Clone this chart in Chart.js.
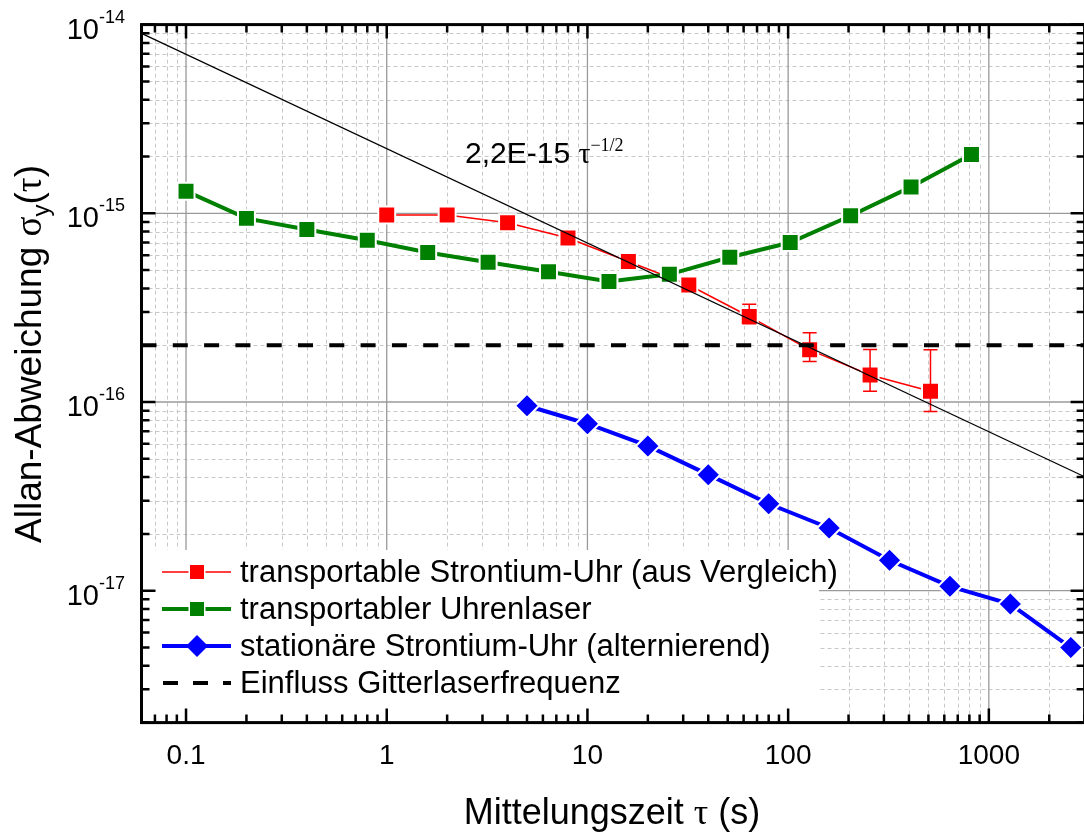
<!DOCTYPE html>
<html>
<head>
<meta charset="utf-8">
<script src="https://cdn.jsdelivr.net/npm/chart.js@4.4.0/dist/chart.umd.min.js"></script>
<style>
html, body { margin: 0; padding: 0; background: #fff; overflow: hidden; }
#wrap { width: 1084px; height: 833px; overflow: hidden; }
canvas { display: block; }
</style>
</head>
<body>
<div id="wrap"><canvas id="allan" width="1086" height="833"></canvas></div>
<script>
const tauRed = [1, 2, 4, 8, 16, 32, 64, 128, 256, 512];
const sigmaRed = [9.8e-16, 9.8e-16, 8.9e-16, 7.4e-16, 5.55e-16, 4.17e-16, 2.84e-16, 1.89e-16, 1.39e-16, 1.14e-16];
const errRedHigh = [null, null, null, null, null, null, 3.3e-16, 2.33e-16, 1.9e-16, 1.89e-16];
const errRedLow = [null, null, null, null, null, null, 2.6e-16, 1.64e-16, 1.14e-16, 8.9e-17];

const tauGreen = [0.1, 0.2, 0.4, 0.8, 1.6, 3.2, 6.4, 12.8, 25.6, 51.2, 102.4, 204.8, 409.6, 819.2];
const sigmaGreen = [1.31e-15, 9.4e-16, 8.2e-16, 7.2e-16, 6.2e-16, 5.5e-16, 4.9e-16, 4.35e-16, 4.75e-16, 5.85e-16, 7.0e-16, 9.7e-16, 1.38e-15, 2.05e-15];

const tauBlue = [5, 10, 20, 40, 80, 160, 320, 640, 1280, 2560];
const sigmaBlue = [9.55e-17, 7.67e-17, 5.85e-17, 4.12e-17, 2.89e-17, 2.15e-17, 1.45e-17, 1.055e-17, 8.5e-18, 5.0e-18];

// 2,2E-15 tau^-1/2 (Endpunkte) und Gitterlaser-Grenze
const fitTau = [0.06, 3000];
const fitSigma = [8.98e-15, 4.02e-17];
const latticeTau = [0.06, 3000];
const latticeSigma = [2e-16, 2e-16];

const xTicks = [0.1, 1, 10, 100, 1000];
const xTickLabels = ['0.1', '1', '10', '100', '1000'];
const yTickExps = [-14, -15, -16, -17];

const legendLabels = [
    'transportable Strontium-Uhr (aus Vergleich)',
    'transportabler Uhrenlaser',
    'stationäre Strontium-Uhr (alternierend)',
    'Einfluss Gitterlaserfrequenz'
];

const RED = '#ff0000', GREEN = '#008000', BLUE = '#0000ff';
const SANS = '"Liberation Sans", Arial, sans-serif';
const SERIF = '"Liberation Serif", "Times New Roman", serif';

const toXY = (xs, ys) => xs.map((x, i) => ({ x: x, y: ys[i] }));

// alle Werte m*10^e im Bereich (fuer Gitter und Striche)
function logValues(min, max) {
    const out = [];
    for (let e = Math.floor(Math.log10(min)); e <= Math.ceil(Math.log10(max)); e++) {
        for (let m = 1; m <= 9; m++) {
            const v = m * Math.pow(10, e);
            if (v >= min * 0.9999 && v <= max * 1.0001) out.push({ v: v, major: m === 1 });
        }
    }
    return out;
}

// Text aus mehreren Stuecken (Hoch-/Tiefstellung, Symbolschrift)
function drawRuns(ctx, runs, x, y, align) {
    let w = 0;
    runs.forEach(r => { ctx.font = r[1]; w += ctx.measureText(r[0]).width; });
    let cx = align === 'center' ? x - w / 2 : (align === 'right' ? x - w : x);
    ctx.textAlign = 'left';
    ctx.textBaseline = 'alphabetic';
    runs.forEach(r => {
        ctx.font = r[1];
        ctx.fillText(r[0], cx, y + (r[2] || 0));
        cx += ctx.measureText(r[0]).width;
    });
}

const legendBox = { right: 819, top: 550 };

const framePlugin = {
    id: 'frame',
    beforeDatasetsDraw(chart) {
        const { ctx, chartArea: a, scales: { x, y } } = chart;
        const xs = logValues(x.min, x.max);
        const ys = logValues(y.min, y.max);
        ctx.save();
        // Nebengitter
        ctx.lineWidth = 1;
        ctx.strokeStyle = '#c8c8c8';
        ctx.setLineDash([4, 3]);
        ctx.beginPath();
        xs.filter(t => !t.major).forEach(t => {
            const px = Math.round(x.getPixelForValue(t.v)) + 0.5;
            ctx.moveTo(px, a.top); ctx.lineTo(px, a.bottom);
        });
        ys.filter(t => !t.major).forEach(t => {
            const py = Math.round(y.getPixelForValue(t.v)) + 0.5;
            ctx.moveTo(a.left, py); ctx.lineTo(a.right, py);
        });
        ctx.stroke();
        // Hauptgitter
        ctx.setLineDash([]);
        ctx.strokeStyle = '#9a9a9a';
        ctx.lineWidth = 1.3;
        ctx.beginPath();
        xs.filter(t => t.major).forEach(t => {
            const px = x.getPixelForValue(t.v);
            ctx.moveTo(px, a.top); ctx.lineTo(px, a.bottom);
        });
        ys.filter(t => t.major).forEach(t => {
            const py = y.getPixelForValue(t.v);
            ctx.moveTo(a.left, py); ctx.lineTo(a.right, py);
        });
        ctx.stroke();
        // Legendenhintergrund
        ctx.fillStyle = '#fff';
        ctx.fillRect(a.left, legendBox.top, legendBox.right - a.left, a.bottom - legendBox.top);
        // Striche nach innen
        ctx.strokeStyle = '#000';
        ctx.lineWidth = 2.5;
        ctx.beginPath();
        xs.forEach(t => {
            const px = x.getPixelForValue(t.v);
            const len = t.major ? 14 : 8;
            ctx.moveTo(px, a.top); ctx.lineTo(px, a.top + len);
            ctx.moveTo(px, a.bottom); ctx.lineTo(px, a.bottom - len);
        });
        ys.forEach(t => {
            const py = y.getPixelForValue(t.v);
            const len = t.major ? 14 : 8;
            ctx.moveTo(a.left, py); ctx.lineTo(a.left + len, py);
            ctx.moveTo(a.right, py); ctx.lineTo(a.right - len, py);
        });
        ctx.stroke();
        ctx.lineWidth = 3;
        ctx.strokeRect(a.left, a.top, a.right - a.left, a.bottom - a.top);
        ctx.restore();
    },
    afterDatasetDraw(chart, args) {
        if (chart.data.datasets[args.index].label !== legendLabels[0]) return;
        const { ctx, scales: { x, y } } = chart;
        ctx.save();
        ctx.strokeStyle = RED;
        ctx.lineWidth = 1.5;
        ctx.beginPath();
        tauRed.forEach((t, i) => {
            if (errRedLow[i] == null) return;
            const px = x.getPixelForValue(t);
            const y1 = y.getPixelForValue(errRedHigh[i]);
            const y2 = y.getPixelForValue(errRedLow[i]);
            ctx.moveTo(px, y1); ctx.lineTo(px, y2);
            ctx.moveTo(px - 7, y1); ctx.lineTo(px + 7, y1);
            ctx.moveTo(px - 7, y2); ctx.lineTo(px + 7, y2);
        });
        ctx.stroke();
        ctx.restore();
    },
    afterDatasetsDraw(chart) {
        const { ctx } = chart;
        ctx.save();
        // Legende
        const rows = [572, 609, 646, 683];
        const x0 = 162, x1 = 231, xm = 197;
        const sq = (cy, col) => {
            ctx.fillStyle = '#fff';
            ctx.fillRect(xm - 8.5, cy - 8.5, 17, 17);
            ctx.fillStyle = col;
            ctx.fillRect(xm - 7, cy - 7, 14, 14);
        };
        ctx.lineCap = 'butt';
        ctx.strokeStyle = RED; ctx.lineWidth = 1.5;
        ctx.beginPath(); ctx.moveTo(x0, rows[0]); ctx.lineTo(x1, rows[0]); ctx.stroke();
        sq(rows[0], RED);
        ctx.strokeStyle = GREEN; ctx.lineWidth = 4;
        ctx.beginPath(); ctx.moveTo(x0, rows[1]); ctx.lineTo(x1, rows[1]); ctx.stroke();
        sq(rows[1], GREEN);
        ctx.strokeStyle = BLUE; ctx.lineWidth = 4;
        ctx.beginPath(); ctx.moveTo(x0, rows[2]); ctx.lineTo(x1, rows[2]); ctx.stroke();
        ctx.fillStyle = BLUE;
        ctx.beginPath();
        ctx.moveTo(xm, rows[2] - 11); ctx.lineTo(xm + 11, rows[2]);
        ctx.lineTo(xm, rows[2] + 11); ctx.lineTo(xm - 11, rows[2]);
        ctx.closePath(); ctx.fill();
        ctx.strokeStyle = '#000'; ctx.lineWidth = 4; ctx.setLineDash([15, 15]);
        ctx.beginPath(); ctx.moveTo(x0 + 1, rows[3]); ctx.lineTo(x1, rows[3]); ctx.stroke();
        ctx.setLineDash([]);
        ctx.fillStyle = '#000';
        ctx.font = '31px ' + SANS;
        ctx.textAlign = 'left';
        ctx.textBaseline = 'alphabetic';
        legendLabels.forEach((t, i) => ctx.fillText(t, 240, rows[i] + 10));
        // Beschriftung der Geraden
        drawRuns(ctx, [
            ['2,2E-15 ', '30px ' + SANS],
            ['\u03c4', '30px ' + SERIF],
            ['\u22121/2', '18px ' + SERIF, -12]
        ], 465, 163, 'left');
        ctx.restore();
    },
    afterDraw(chart) {
        const { ctx, scales: { x, y } } = chart;
        ctx.save();
        ctx.fillStyle = '#000';
        ctx.textAlign = 'center';
        ctx.textBaseline = 'alphabetic';
        ctx.font = '28px ' + SANS;
        xTicks.forEach((v, i) => ctx.fillText(xTickLabels[i], x.getPixelForValue(v), 764));
        yTickExps.forEach(e => {
            const py = y.getPixelForValue(Math.pow(10, e));
            drawRuns(ctx, [['10', '29px ' + SANS], [String(e), '18px ' + SANS, -16]], 125, py + 14, 'right');
        });
        drawRuns(ctx, [
            ['Mittelungszeit ', '36px ' + SANS],
            ['\u03c4', '36px ' + SERIF],
            [' (s)', '36px ' + SANS]
        ], 612, 824, 'center');
        ctx.translate(41, 354);
        ctx.rotate(-Math.PI / 2);
        drawRuns(ctx, [
            ['Allan-Abweichung ', '37px ' + SANS],
            ['\u03c3', '37px ' + SERIF],
            ['y', '24px ' + SANS, 8],
            ['(', '37px ' + SANS],
            ['\u03c4', '37px ' + SERIF],
            [')', '37px ' + SANS]
        ], 0, 0, 'center');
        ctx.restore();
    }
};

const marker = { pointBorderColor: '#fff', pointBorderWidth: 2, pointHoverRadius: 0 };

new Chart(document.getElementById('allan'), {
    type: 'line',
    data: {
        datasets: [
            {
                label: 'fit',
                data: toXY(fitTau, fitSigma),
                borderColor: '#000', borderWidth: 1.2, pointRadius: 0
            },
            {
                label: legendLabels[3],
                data: toXY(latticeTau, latticeSigma),
                borderColor: '#000', borderWidth: 4, borderDash: [15, 16.3], pointRadius: 0
            },
            Object.assign({
                label: legendLabels[2],
                data: toXY(tauBlue, sigmaBlue),
                borderColor: BLUE, borderWidth: 4,
                pointStyle: 'rectRot', pointRadius: 12, pointBackgroundColor: BLUE
            }, marker),
            Object.assign({
                label: legendLabels[1],
                data: toXY(tauGreen, sigmaGreen),
                borderColor: GREEN, borderWidth: 4,
                pointStyle: 'rect', pointRadius: 12, pointBackgroundColor: GREEN
            }, marker),
            Object.assign({
                label: legendLabels[0],
                data: toXY(tauRed, sigmaRed),
                borderColor: RED, borderWidth: 1.5,
                pointStyle: 'rect', pointRadius: 12, pointBackgroundColor: RED
            }, marker)
        ]
    },
    options: {
        responsive: false,
        animation: false,
        devicePixelRatio: 1,
        events: [],
        layout: { autoPadding: false, padding: { left: 141.5, top: 24.6, right: 1.4, bottom: 110.4 } },
        scales: {
            x: { type: 'logarithmic', min: 0.06, max: 3000, display: false },
            y: { type: 'logarithmic', min: 2e-18, max: 1e-14, display: false }
        },
        plugins: {
            legend: { display: false },
            tooltip: { enabled: false }
        }
    },
    plugins: [framePlugin]
});
</script>
</body>
</html>
